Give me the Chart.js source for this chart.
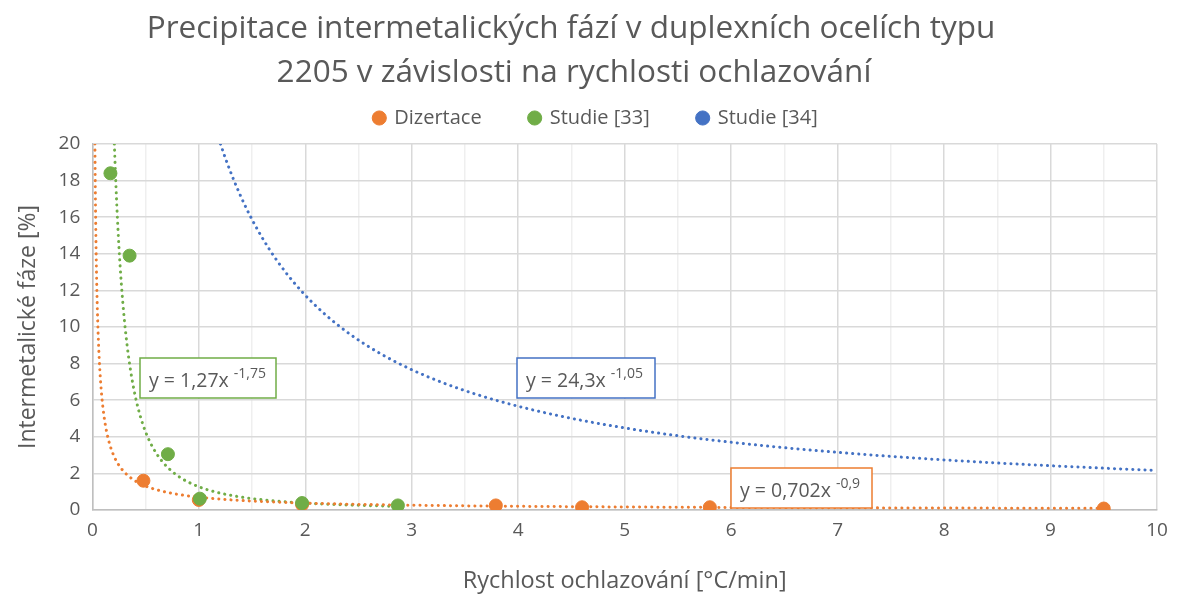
<!DOCTYPE html>
<html>
<head>
<meta charset="utf-8">
<script src="https://cdn.jsdelivr.net/npm/chart.js@4"></script>
<style>
html,body{margin:0;padding:0;background:#fff;}
#wrap{width:1181px;height:599px;position:relative;}
</style>
</head>
<body>
<div id="wrap"><canvas id="c" width="1181" height="599"></canvas></div>
<script>
// ---- data ----
const titleLines = ['Precipitace intermetalických fází v duplexních ocelích typu', '2205 v závislosti na rychlosti ochlazování'];
const seriesNames = ['Dizertace', 'Studie [33]', 'Studie [34]'];
const dizX = [0.48, 1.0, 1.97, 3.79, 4.6, 5.8, 9.5];
const dizY = [1.6, 0.55, 0.3, 0.25, 0.15, 0.15, 0.08];
const s33X = [0.17, 0.35, 0.71, 1.01, 1.97, 2.87];
const s33Y = [18.4, 13.9, 3.05, 0.62, 0.38, 0.25];
const s34X = [];
const s34Y = [];
// power trendlines y = a*x^b as printed in the chart
const trendA = [0.702, 1.27, 24.3];
const trendB = [-0.9, -1.75, -1.05];
const trendEnd = [9.5, 2.87, 10];
const trendLabelA = ['0,702', '1,27', '24,3'];
const trendLabelB = ['-0,9', '-1,75', '-1,05'];
const xTicks = [0,1,2,3,4,5,6,7,8,9,10];
const yTicks = [0,2,4,6,8,10,12,14,16,18,20];

const colors = ['#ED7D31', '#70AD47', '#4472C4'];
const FONT = '"Open Sans"';
const TXT = '#595959';

function pts(xs, ys){ return xs.map((x,i)=>({x:x, y:ys[i]})); }
function trend(i){
  const a = trendA[i], b = trendB[i];
  const x0 = Math.pow(20/a, 1/b);
  const x1 = trendEnd[i];
  const out = [];
  const n = 300;
  for(let k=0;k<=n;k++){
    const x = x0*Math.pow(x1/x0, k/n);
    out.push({x:x, y:a*Math.pow(x,b)});
  }
  return out;
}

const boxes = [
  {s:1, left:140, top:358, w:136, h:40},
  {s:2, left:517, top:358, w:138, h:40},
  {s:0, left:731, top:468, w:141, h:40}
];

const legendTweak = {
  id:'legendTweak',
  beforeInit(chart){
    const lg = chart.legend;
    const origFit = lg.fit;
    lg.fit = function(){ origFit.call(this); this.height += 6; };
    const origDraw = lg.draw;
    lg.draw = function(){
      this.ctx.save();
      this.ctx.translate(12, 0);
      origDraw.apply(this, arguments);
      this.ctx.restore();
    };
  }
};

const overlay = {
  id:'overlay',
  afterDraw(chart){
    const ctx = chart.ctx;
    ctx.save();
    // title
    ctx.fillStyle = TXT;
    ctx.font = '31.5px ' + FONT;
    ctx.textAlign = 'center';
    ctx.textBaseline = 'alphabetic';
    ctx.fillText(titleLines[0], 571, 38);
    ctx.fillText(titleLines[1], 574, 82);
    // trendline labels
    boxes.forEach(bx=>{
      ctx.fillStyle = '#fff';
      ctx.fillRect(bx.left, bx.top, bx.w, bx.h);
      ctx.strokeStyle = colors[bx.s];
      ctx.lineWidth = 1.5;
      ctx.strokeRect(bx.left, bx.top, bx.w, bx.h);
      ctx.fillStyle = TXT;
      ctx.textAlign = 'left';
      ctx.font = '19.5px ' + FONT;
      const main = 'y = ' + trendLabelA[bx.s] + 'x ';
      ctx.fillText(main, bx.left + 9, bx.top + 29);
      const w = ctx.measureText(main).width;
      ctx.font = '14px ' + FONT;
      ctx.fillText(trendLabelB[bx.s], bx.left + 9 + w, bx.top + 20);
    });
    ctx.restore();
  }
};

const dotted = {borderDash:[0.1,6], borderCapStyle:'round', borderWidth:3, pointRadius:0, showLine:true, fill:false, tension:0};

new Chart(document.getElementById('c'), {
  type:'scatter',
  data:{
    datasets:[
      {label:seriesNames[0], data:pts(dizX,dizY), backgroundColor:colors[0], borderColor:colors[0], pointRadius:6.5, pointHoverRadius:6.5, order:2},
      {label:seriesNames[1], data:pts(s33X,s33Y), backgroundColor:colors[1], borderColor:colors[1], pointRadius:6.5, pointHoverRadius:6.5, order:1},
      {label:seriesNames[2], data:pts(s34X,s34Y), backgroundColor:colors[2], borderColor:colors[2], pointRadius:6.5, order:1},
      {label:'_t0', data:trend(0), borderColor:colors[0], ...dotted, order:5},
      {label:'_t1', data:trend(1), borderColor:colors[1], ...dotted, order:5},
      {label:'_t2', data:trend(2), borderColor:colors[2], ...dotted, order:5}
    ]
  },
  plugins:[legendTweak, overlay],
  options:{
    responsive:false,
    animation:false,
    events:[],
    layout:{padding:{top:60, right:24, left:11, bottom:0}},
    plugins:{
      title:{display:false},
      tooltip:{enabled:false},
      legend:{
        display:true,
        position:'top',
        labels:{
          filter:(item)=>!item.text.startsWith('_'),
          sort:(a,b)=>a.datasetIndex-b.datasetIndex,
          usePointStyle:true, pointStyle:'circle', boxWidth:10, boxHeight:10,
          color:TXT, font:{family:FONT, size:20}, padding:48
        }
      }
    },
    scales:{
      x:{
        type:'linear', min:0, max:10,
        afterBuildTicks:(ax)=>{ const t=[]; for(let i=0;i<=20;i++) t.push({value:i/2}); ax.ticks=t; },
        ticks:{color:TXT, font:{family:FONT, size:19}, autoSkip:false, maxRotation:0, padding:9,
          callback:(v)=> xTicks.includes(v) ? String(v) : ''},
        grid:{color:(c)=> Number.isInteger(c.tick.value) ? '#d9d9d9' : '#efefef', lineWidth:1.5, drawTicks:false},
        border:{color:'#bfbfbf', width:1.5},
        title:{display:true, text:'Rychlost ochlazování [°C/min]', color:TXT, font:{family:FONT, size:23.5}, padding:{top:16}}
      },
      y:{
        type:'linear', min:0, max:20,
        afterBuildTicks:(ax)=>{ ax.ticks = yTicks.map(v=>({value:v})); },
        ticks:{color:TXT, font:{family:FONT, size:19}, padding:12},
        grid:{color:'#d9d9d9', lineWidth:1.5, drawTicks:false},
        border:{color:'#bfbfbf', width:1.5},
        title:{display:true, text:'Intermetalické fáze [%]', color:TXT, font:{family:FONT, size:23}, padding:{bottom:4}}
      }
    }
  }
});
</script>
</body>
</html>
